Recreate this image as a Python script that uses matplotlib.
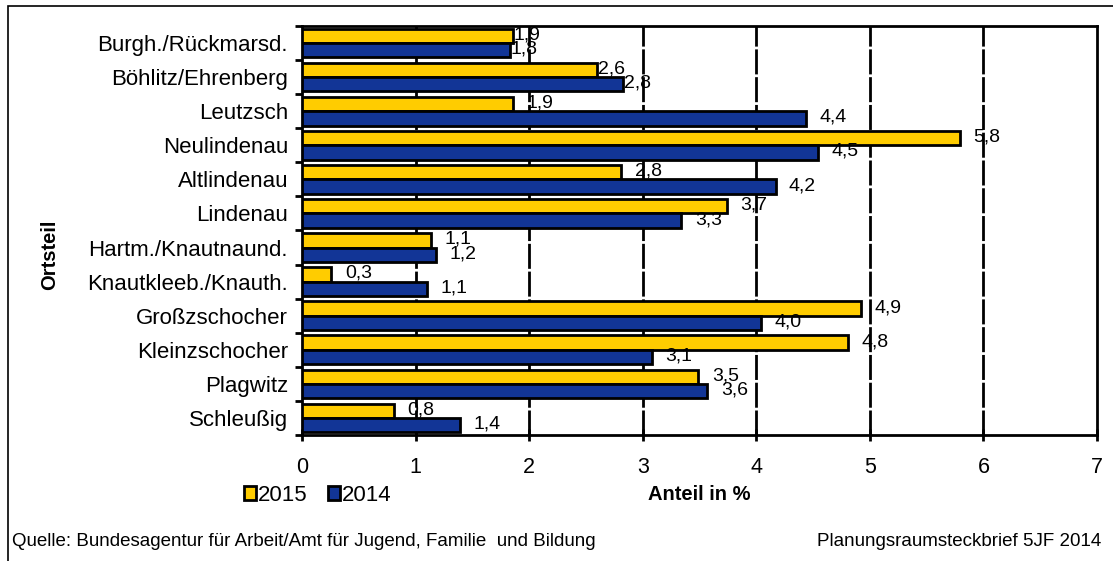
import numpy as np
import matplotlib.pyplot as plt
from matplotlib.patches import Rectangle

plt.rcParams['font.family'] = ['Liberation Sans', 'DejaVu Sans']

# === Data ===
ortsteile = ['Burgh./Rückmarsd.', 'Böhlitz/Ehrenberg', 'Leutzsch', 'Neulindenau',
             'Altlindenau', 'Lindenau', 'Hartm./Knautnaund.', 'Knautkleeb./Knauth.',
             'Großzschocher', 'Kleinzschocher', 'Plagwitz', 'Schleußig']
anteil_2015 = [1.86, 2.60, 1.86, 5.79, 2.81, 3.74, 1.14, 0.26, 4.92, 4.81, 3.49, 0.81]
anteil_2014 = [1.83, 2.83, 4.44, 4.54, 4.17, 3.34, 1.18, 1.10, 4.04, 3.08, 3.57, 1.39]
jahre = ['2015', '2014']
farben = ['#FFCC00', '#123596']

fig = plt.figure(figsize=(11.13, 5.61), dpi=100)
ax = fig.add_axes([0.2713, 0.2246, 0.7143, 0.7291])

# outer frame of the figure
fig.patches.append(Rectangle((8 / 1113, -0.05), 1.2, 1 - 6 / 561 + 0.05,
                             transform=fig.transFigure, fill=False,
                             edgecolor='black', linewidth=1.2))

y = np.arange(len(ortsteile))
h = 0.42
ax.barh(y - h / 2, anteil_2015, height=h, color=farben[0], edgecolor='black',
        linewidth=2, label=jahre[0], zorder=3)
ax.barh(y + h / 2, anteil_2014, height=h, color=farben[1], edgecolor='black',
        linewidth=2, label=jahre[1], zorder=3)

# value labels, German decimal comma
for i in range(len(ortsteile)):
    for v, yy in ((anteil_2015[i], y[i] - h / 2), (anteil_2014[i], y[i] + h / 2)):
        dx = 14 if i < 2 else 27
        ax.annotate(f'{v:.1f}'.replace('.', ','), (v, yy), xytext=(dx, 1),
                    textcoords='offset pixels', ha='center', va='center',
                    fontsize=14, zorder=4)

ax.set_xlim(0, 7)
ax.set_ylim(len(ortsteile) - 0.5, -0.5)
ax.set_xticks(range(8))
ax.set_yticks(y)
ax.set_yticklabels(ortsteile, fontsize=16)
ax.set_yticks(np.arange(-0.5, len(ortsteile)), minor=True)
ax.tick_params(axis='y', which='major', length=0, pad=10)
ax.tick_params(axis='y', which='minor', length=5, width=2, direction='out')
ax.tick_params(axis='x', length=8, width=2, direction='inout', labelsize=15.5, pad=12)

for s in ax.spines.values():
    s.set_linewidth(2)

for xv in range(1, 7):
    ax.axvline(xv, color='black', linewidth=2, linestyle=(0, (9, 1)), zorder=1)

ax.set_xlabel('Anteil in %', fontsize=14.5, fontweight='bold', labelpad=5)
fig.text(0.045, 0.545, 'Ortsteil', rotation=90, fontsize=14.5, fontweight='bold',
         ha='center', va='center')

leg = fig.legend(loc='center left', bbox_to_anchor=(0.219, 0.117), ncol=2, frameon=False,
                 fontsize=16, handlelength=0.55, handleheight=0.55, handletextpad=0.1,
                 columnspacing=0.9, borderaxespad=0, borderpad=0)

fig.text(0.011, 0.035, 'Quelle: Bundesagentur für Arbeit/Amt für Jugend, Familie  und Bildung',
         fontsize=13.5, va='center')
fig.text(0.989, 0.035, 'Planungsraumsteckbrief 5JF 2014', fontsize=13.5,
         va='center', ha='right')

fig.savefig('out.png', dpi=100)
